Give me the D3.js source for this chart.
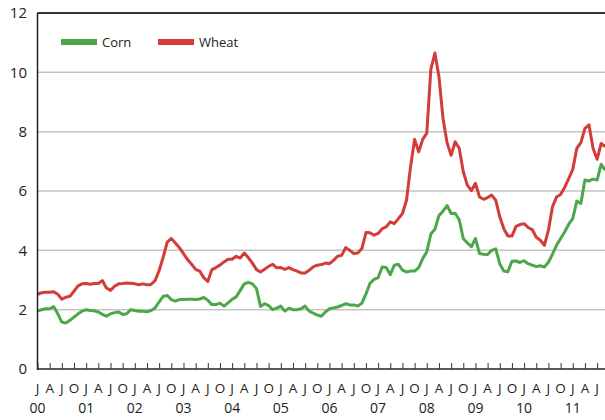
<!DOCTYPE html>
<html><head><meta charset="utf-8">
<script src="https://cdn.jsdelivr.net/npm/d3@7"></script>
<style>body{margin:0;background:#fff;}svg{display:block;font-family:"Open Sans",sans-serif;}</style>
</head><body><svg id="c" width="605" height="420"></svg>
<script>
const seriesNames = ["Corn", "Wheat"];
const startYear = 2000;
const corn = [1.95,2.0,2.03,2.03,2.1,1.86,1.58,1.55,1.64,1.75,1.86,1.95,
2.0,1.97,1.96,1.92,1.84,1.78,1.86,1.9,1.92,1.84,1.86,2.0,
1.97,1.95,1.95,1.93,1.97,2.06,2.26,2.45,2.48,2.34,2.29,2.34,
2.34,2.35,2.35,2.34,2.36,2.41,2.32,2.17,2.17,2.22,2.12,2.23,
2.35,2.43,2.65,2.87,2.92,2.87,2.71,2.11,2.2,2.14,2.0,2.05,
2.12,1.95,2.05,2.0,2.0,2.03,2.12,1.95,1.88,1.82,1.78,1.92,
2.03,2.06,2.09,2.14,2.2,2.16,2.16,2.12,2.22,2.53,2.89,3.02,
3.08,3.44,3.42,3.18,3.5,3.53,3.33,3.27,3.3,3.3,3.42,3.72,
3.95,4.55,4.71,5.17,5.32,5.51,5.24,5.25,5.03,4.4,4.25,4.12,
4.4,3.89,3.87,3.86,4.0,4.05,3.55,3.3,3.28,3.63,3.64,3.59,
3.65,3.55,3.5,3.45,3.48,3.44,3.6,3.87,4.17,4.4,4.62,4.88,
5.07,5.66,5.58,6.37,6.34,6.4,6.37,6.9,6.7];
const wheat = [2.52,2.57,2.59,2.59,2.6,2.52,2.35,2.42,2.45,2.62,2.8,2.87,
2.88,2.86,2.88,2.88,2.98,2.73,2.65,2.79,2.87,2.88,2.9,2.89,
2.87,2.84,2.87,2.84,2.85,2.98,3.32,3.77,4.28,4.4,4.25,4.09,
3.89,3.69,3.53,3.36,3.3,3.08,2.95,3.35,3.42,3.5,3.61,3.7,
3.7,3.8,3.74,3.91,3.75,3.57,3.35,3.27,3.36,3.46,3.53,3.41,
3.42,3.36,3.42,3.35,3.3,3.24,3.24,3.33,3.44,3.5,3.52,3.57,
3.55,3.66,3.8,3.83,4.09,4.0,3.89,3.91,4.06,4.6,4.59,4.51,
4.57,4.73,4.79,4.96,4.9,5.07,5.24,5.69,6.82,7.74,7.32,7.74,
7.95,10.1,10.65,9.86,8.45,7.63,7.2,7.66,7.44,6.65,6.2,6.01,
6.26,5.8,5.72,5.78,5.86,5.69,5.13,4.73,4.48,4.48,4.81,4.87,
4.9,4.77,4.7,4.44,4.34,4.17,4.68,5.47,5.8,5.88,6.12,6.42,
6.73,7.44,7.63,8.11,8.23,7.44,7.07,7.6,7.5];
const yTicks = [0,2,4,6,8,10,12];
const quarterLetters = ["J","A","J","O"];
const yearLabels = ["00","01","02","03","04","05","06","07","08","09","10","11"];
const colors = {Corn:"#4ba747", Wheat:"#d23d39"};

const svg = d3.select("#c");
const L = 37.5, T = 13, B = 369, R = 605;
const x = d3.scaleLinear().domain([0,140]).range([L, L + 140*4.055]);
const y = d3.scaleLinear().domain([0,12]).range([B, T]);

// gridlines
svg.append("g").selectAll("line").data(yTicks.filter(d=>d>0 && d<12)).join("line")
  .attr("x1",L).attr("x2",R).attr("y1",d=>y(d)).attr("y2",d=>y(d))
  .attr("stroke","#c4c4c4").attr("stroke-width",1.5);

// lines
const line = d3.line().x((d,i)=>x(i)).y(d=>y(d));
[["Corn",corn],["Wheat",wheat]].forEach(([n,arr])=>{
  svg.append("path").datum(arr).attr("d",line).attr("fill","none")
    .attr("stroke",colors[n]).attr("stroke-width",3).attr("stroke-linejoin","round");
});

// frame: top and left
svg.append("line").attr("x1",L).attr("x2",R).attr("y1",T).attr("y2",T).attr("stroke","#333").attr("stroke-width",2);
svg.append("line").attr("x1",L).attr("x2",L).attr("y1",T).attr("y2",B+1).attr("stroke","#222").attr("stroke-width",1.5);

// y axis labels
svg.append("g").selectAll("text").data(yTicks).join("text")
  .attr("x",27).attr("y",d=>y(d)).attr("dy","0.36em").attr("text-anchor","end")
  .attr("font-size",15).attr("fill","#222").text(d=>d);

// x axis
const qIdx = d3.range(0,139,3);
const xAxis = d3.axisBottom(x).tickValues(qIdx).tickSize(-6).tickFormat("").tickSizeOuter(0);
const gx = svg.append("g").attr("transform",`translate(0,${B})`).call(xAxis);
gx.select(".domain").attr("stroke","#222").attr("stroke-width",1.5).attr("d",`M${L},0H${R}`);
gx.selectAll(".tick line").attr("stroke","#333").attr("stroke-width",1);

svg.append("g").selectAll("text").data(qIdx).join("text")
  .attr("x",d=>x(d)).attr("y",393).attr("text-anchor","middle")
  .attr("font-size",13.5).attr("fill","#222").text(d=>quarterLetters[(d/3)%4]);
svg.append("g").selectAll("text").data(yearLabels).join("text")
  .attr("x",(d,i)=>x(i*12)).attr("y",413).attr("text-anchor","middle")
  .attr("font-size",14).attr("fill","#222").text(d=>d);

// legend
const leg = svg.append("g");
const legX = [61,158];
seriesNames.forEach((n,i)=>{
  leg.append("rect").attr("x",legX[i]).attr("y",39).attr("width",36).attr("height",6).attr("fill",colors[n]);
  leg.append("text").attr("x",legX[i]+41).attr("y",47).attr("font-size",13).attr("fill","#222").text(n);
});
</script></body></html>
